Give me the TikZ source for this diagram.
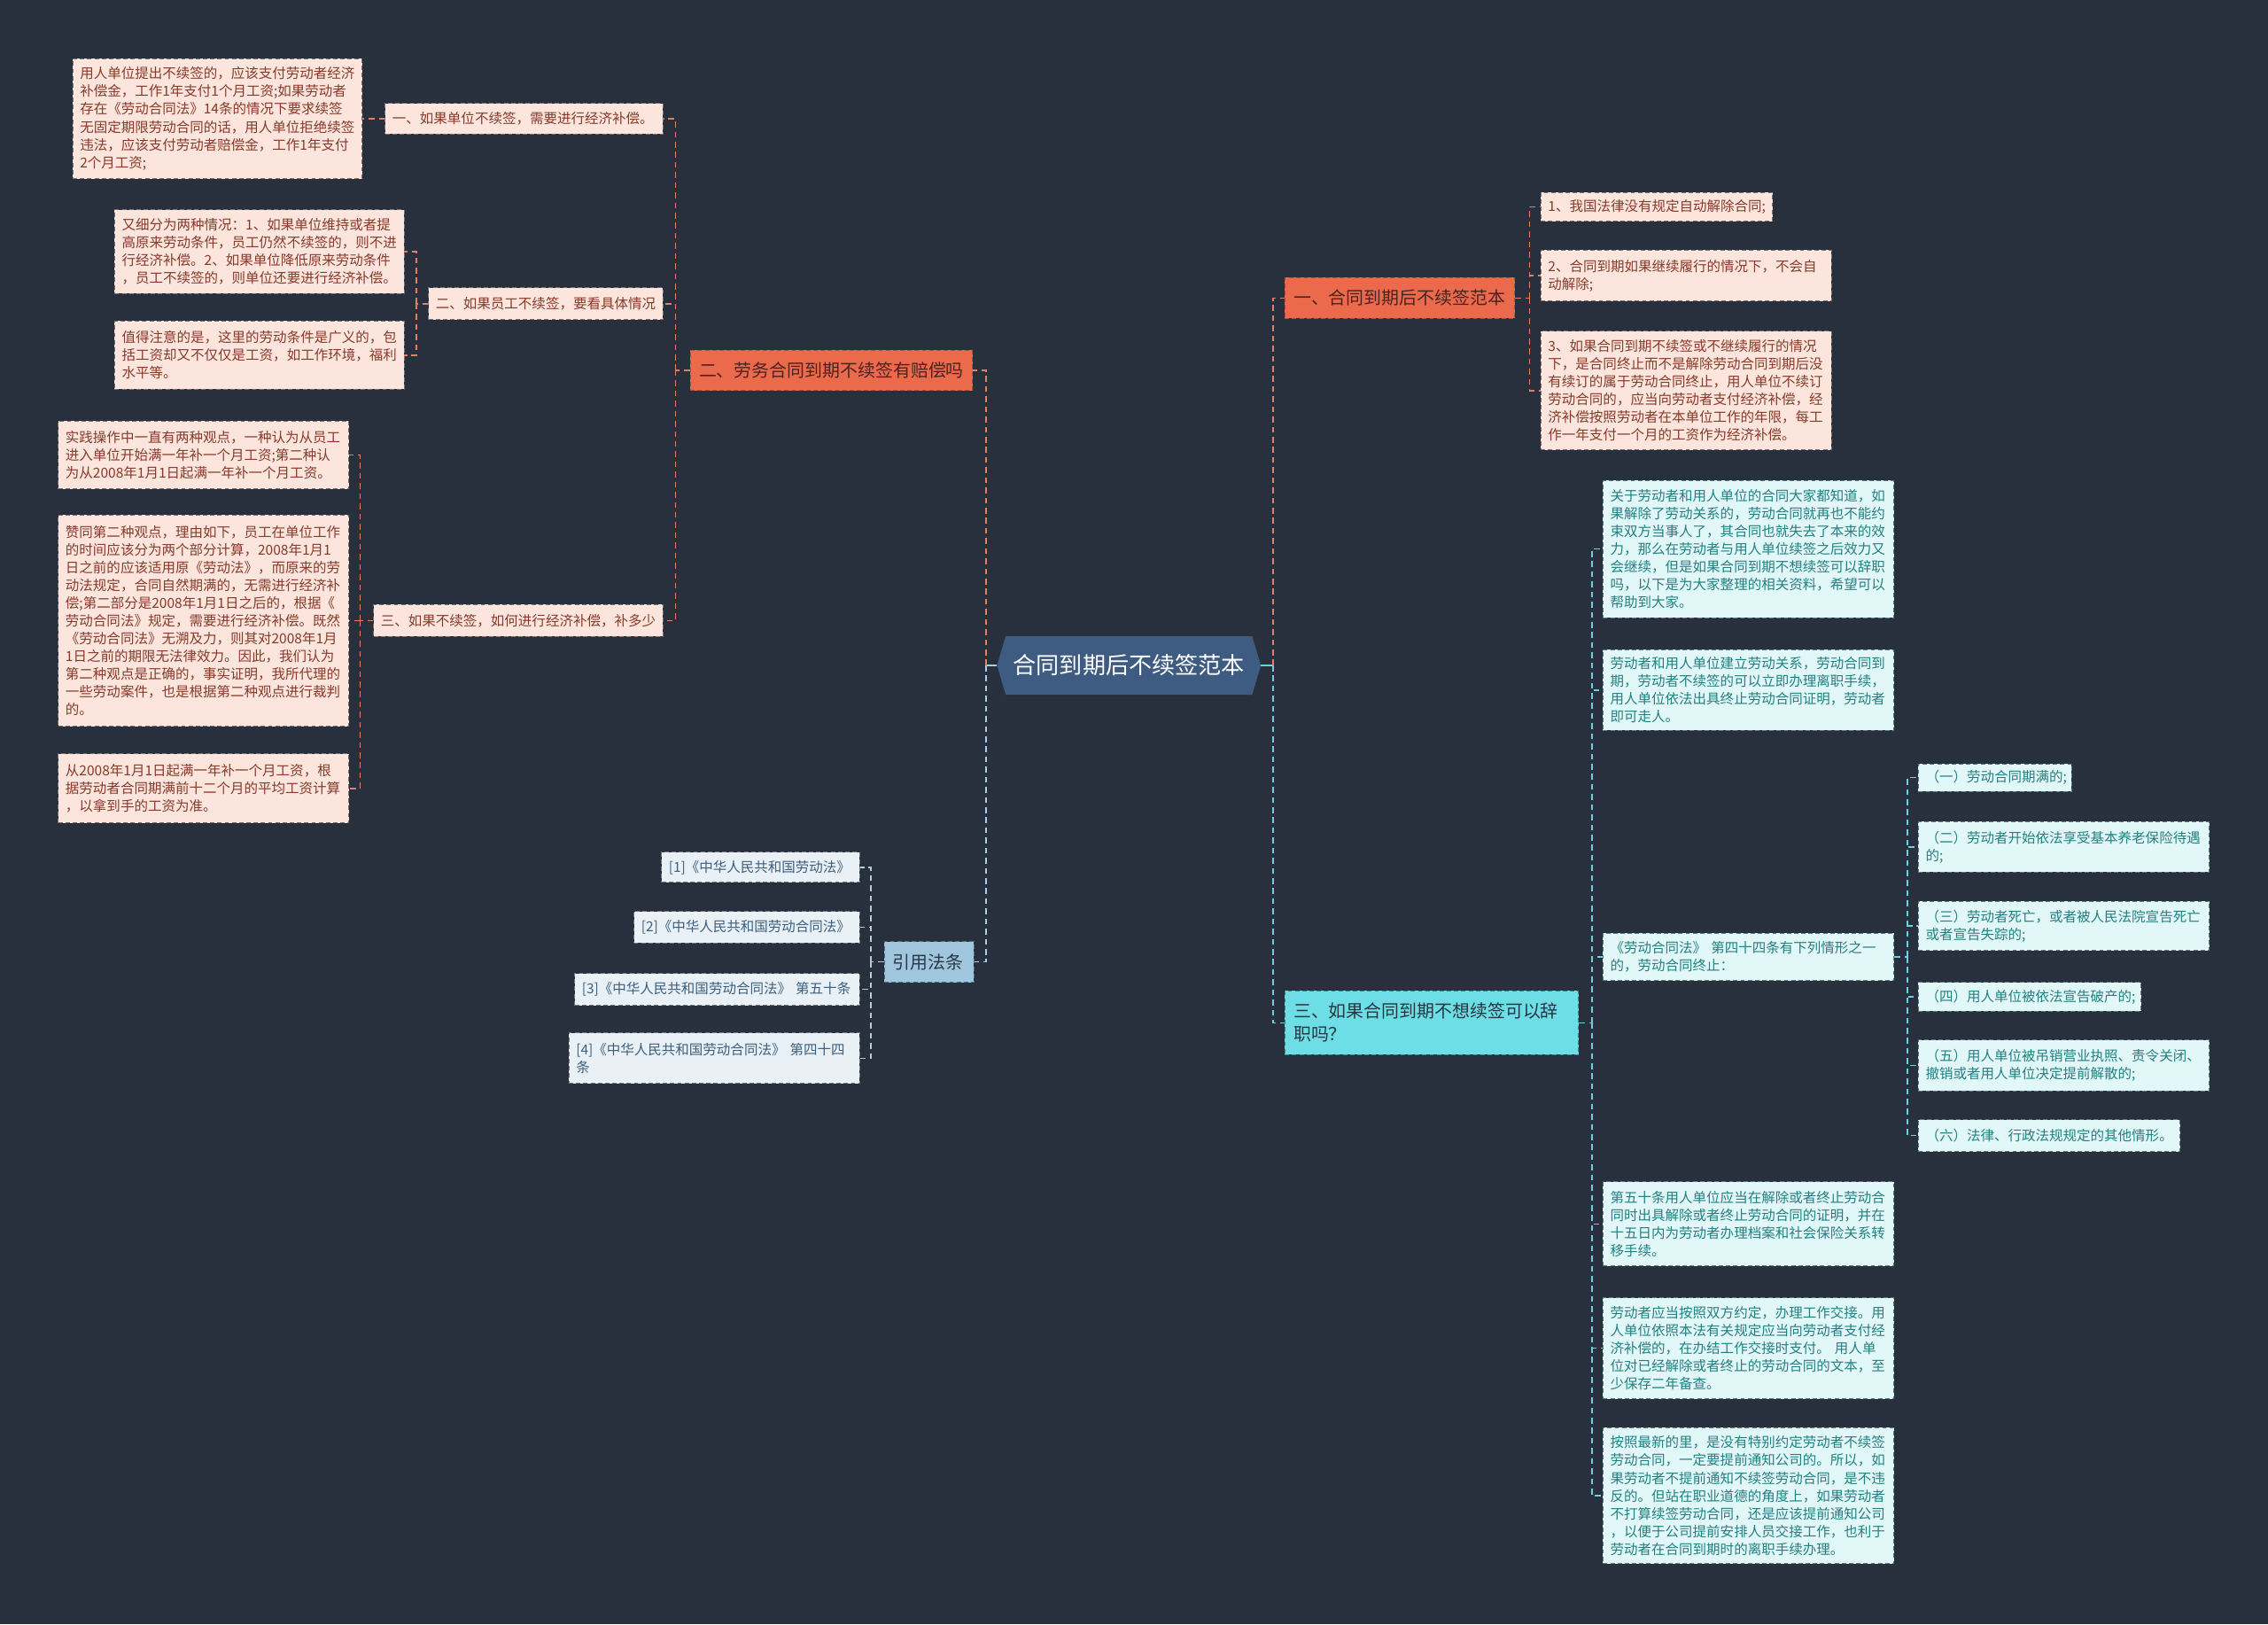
\documentclass[tikz,border=0pt]{standalone}
\usepackage{fontspec}
\setmainfont{Noto Sans CJK SC}
\newcommand\myfs{\fontsize{9.5pt}{12.3pt}\selectfont}
\newcommand\mymid{\fontsize{12.2pt}{16pt}\selectfont}
\newcommand\mybig{\fontsize{16pt}{19pt}\selectfont}
\definecolor{bg}{RGB}{40,48,62}
\definecolor{rootfill}{RGB}{62,92,130}
\definecolor{orangefill}{RGB}{236,106,76}
\definecolor{orangeline}{RGB}{170,80,60}
\definecolor{orangetext}{RGB}{75,35,30}
\definecolor{peachfill}{RGB}{252,229,221}
\definecolor{peachline}{RGB}{120,110,110}
\definecolor{peachtext}{RGB}{135,58,42}
\definecolor{olinkc}{RGB}{225,128,100}
\definecolor{cyanfill}{RGB}{110,222,230}
\definecolor{cyanline}{RGB}{60,130,140}
\definecolor{cyantext}{RGB}{35,55,65}
\definecolor{aquafill}{RGB}{226,247,248}
\definecolor{aqualine}{RGB}{90,120,125}
\definecolor{aquatext}{RGB}{35,128,130}
\definecolor{clinkc}{RGB}{110,208,220}
\definecolor{bluefill}{RGB}{160,198,222}
\definecolor{blueline}{RGB}{80,110,130}
\definecolor{bluetext}{RGB}{40,55,70}
\definecolor{citefill}{RGB}{233,241,247}
\definecolor{citeline}{RGB}{110,120,130}
\definecolor{citetext}{RGB}{60,95,125}
\definecolor{blinkc}{RGB}{175,205,225}
\begin{document}
\begin{tikzpicture}[x=1pt,y=-1pt,
  bx/.style={rectangle, anchor=west, inner xsep=5pt, inner ysep=1pt, align=left, line width=0.6pt, dash pattern=on 3pt off 2pt},
  peach/.style={bx, fill=peachfill, draw=peachline, text=peachtext, font=\myfs},
  aqua/.style={bx, fill=aquafill, draw=aqualine, text=aquatext, font=\myfs},
  citebox/.style={bx, fill=citefill, draw=citeline, text=citetext, font=\myfs},
  mainor/.style={bx, inner xsep=6pt, fill=orangefill, draw=orangeline, text=orangetext, font=\mymid},
  maincy/.style={bx, inner xsep=6pt, fill=cyanfill, draw=cyanline, text=cyantext, font=\mymid},
  mainbl/.style={bx, inner xsep=6pt, fill=bluefill, draw=blueline, text=bluetext, font=\mymid},
  olink/.style={draw=olinkc, line width=0.9pt, dash pattern=on 4pt off 3pt},
  clink/.style={draw=clinkc, line width=0.9pt, dash pattern=on 4pt off 3pt},
  blink/.style={draw=blinkc, line width=0.9pt, dash pattern=on 4pt off 3pt},
  lstub/.style={draw=blinkc, line width=1.2pt},
  cstub/.style={draw=clinkc, line width=1.2pt}
]
\fill[bg] (0,0) rectangle (1568,1123);
\useasboundingbox (0,0) rectangle (1568,1123);

% root
\node[minimum width=170pt, minimum height=40pt, inner sep=0pt] (rootbox) at (780.5,460) {};
\fill[rootfill] ([xshift=-6pt]rootbox.west) -- (rootbox.north west) -- (rootbox.north east) -- ([xshift=6pt]rootbox.east) -- (rootbox.south east) -- (rootbox.south west) -- cycle;
\node[text=white, font=\mybig] (roottext) at (rootbox) {合同到期后不续签范本};

% main branches
\node[mainor, minimum width=159pt, text width=147pt, minimum height=28pt] (b1) at (888,206) {一、合同到期后不续签范本};
\node[mainor, minimum width=195pt, text width=183pt, minimum height=28pt] (b2) at (477,256) {二、劳务合同到期不续签有赔偿吗};
\node[maincy, minimum width=203pt, text width=191pt, minimum height=44pt] (b3) at (888,707) {三、如果合同到期不想续签可以辞\\职吗？};
\node[mainbl, minimum width=62pt, text width=50pt, minimum height=28pt] (cite) at (611,665) {引用法条};

% right orange children
\node[peach, minimum width=160pt, text width=150pt, minimum height=20pt] (r1) at (1065,143) {1、我国法律没有规定自动解除合同;};
\node[peach, minimum width=201pt, text width=191pt, minimum height=35pt] (r2) at (1065,190.5) {2、合同到期如果继续履行的情况下，不会自\\动解除;};
\node[peach, minimum width=201pt, text width=191pt, minimum height=82pt] (r3) at (1065,270) {3、如果合同到期不续签或不继续履行的情况\\下，是合同终止而不是解除劳动合同到期后没\\有续订的属于劳动合同终止，用人单位不续订\\劳动合同的，应当向劳动者支付经济补偿，经\\济补偿按照劳动者在本单位工作的年限，每工\\作一年支付一个月的工资作为经济补偿。};

% left orange children
\node[peach, minimum width=192pt, text width=182pt, minimum height=21pt] (l1) at (266,82) {一、如果单位不续签，需要进行经济补偿。};
\node[peach, minimum width=162pt, text width=152pt, minimum height=22pt] (l2) at (296,210) {二、如果员工不续签，要看具体情况};
\node[peach, minimum width=200pt, text width=190pt, minimum height=22pt] (l3) at (258,429) {三、如果不续签，如何进行经济补偿，补多少};

\node[peach, minimum width=200pt, text width=190pt, minimum height=83pt] (na) at (50,82) {用人单位提出不续签的，应该支付劳动者经济\\补偿金，工作1年支付1个月工资;如果劳动者\\存在《劳动合同法》14条的情况下要求续签\\无固定期限劳动合同的话，用人单位拒绝续签\\违法，应该支付劳动者赔偿金，工作1年支付\\2个月工资;};
\node[peach, minimum width=200pt, text width=190pt, minimum height=58pt] (nb) at (79,174) {又细分为两种情况：1、如果单位维持或者提\\高原来劳动条件，员工仍然不续签的，则不进\\行经济补偿。2、如果单位降低原来劳动条件\\，员工不续签的，则单位还要进行经济补偿。};
\node[peach, minimum width=200pt, text width=190pt, minimum height=47pt] (nc) at (79,245.5) {值得注意的是，这里的劳动条件是广义的，包\\括工资却又不仅仅是工资，如工作环境，福利\\水平等。};
\node[peach, minimum width=201pt, text width=191pt, minimum height=47pt] (nd) at (40,314.5) {实践操作中一直有两种观点，一种认为从员工\\进入单位开始满一年补一个月工资;第二种认\\为从2008年1月1日起满一年补一个月工资。};
\node[peach, minimum width=201pt, text width=191pt, minimum height=146pt] (ne) at (40,429) {赞同第二种观点，理由如下，员工在单位工作\\的时间应该分为两个部分计算，2008年1月1\\日之前的应该适用原《劳动法》，而原来的劳\\动法规定，合同自然期满的，无需进行经济补\\偿;第二部分是2008年1月1日之后的，根据《\\劳动合同法》规定，需要进行经济补偿。既然\\《劳动合同法》无溯及力，则其对2008年1月\\1日之前的期限无法律效力。因此，我们认为\\第二种观点是正确的，事实证明，我所代理的\\一些劳动案件，也是根据第二种观点进行裁判\\的。};
\node[peach, minimum width=201pt, text width=191pt, minimum height=48pt] (nf) at (40,545) {从2008年1月1日起满一年补一个月工资，根\\据劳动者合同期满前十二个月的平均工资计算\\，以拿到手的工资为准。};

% cyan children
\node[aqua, minimum width=201pt, text width=191pt, minimum height=95pt] (qa) at (1108,379.5) {关于劳动者和用人单位的合同大家都知道，如\\果解除了劳动关系的，劳动合同就再也不能约\\束双方当事人了，其合同也就失去了本来的效\\力，那么在劳动者与用人单位续签之后效力又\\会继续，但是如果合同到期不想续签可以辞职\\吗，以下是为大家整理的相关资料，希望可以\\帮助到大家。};
\node[aqua, minimum width=201pt, text width=191pt, minimum height=56pt] (qb) at (1108,477) {劳动者和用人单位建立劳动关系，劳动合同到\\期，劳动者不续签的可以立即办理离职手续，\\用人单位依法出具终止劳动合同证明，劳动者\\即可走人。};
\node[aqua, minimum width=201pt, text width=191pt, minimum height=33pt] (qc) at (1108,661.5) {《劳动合同法》~第四十四条有下列情形之一\\的，劳动合同终止：};
\node[aqua, minimum width=201pt, text width=191pt, minimum height=58pt] (qd) at (1108,846) {第五十条用人单位应当在解除或者终止劳动合\\同时出具解除或者终止劳动合同的证明，并在\\十五日内为劳动者办理档案和社会保险关系转\\移手续。};
\node[aqua, minimum width=201pt, text width=191pt, minimum height=70pt] (qe) at (1108,932) {劳动者应当按照双方约定，办理工作交接。用\\人单位依照本法有关规定应当向劳动者支付经\\济补偿的，在办结工作交接时支付。~用人单\\位对已经解除或者终止的劳动合同的文本，至\\少保存二年备查。};
\node[aqua, minimum width=201pt, text width=191pt, minimum height=94pt] (qf) at (1108,1034) {按照最新的里，是没有特别约定劳动者不续签\\劳动合同，一定要提前通知公司的。所以，如\\果劳动者不提前通知不续签劳动合同，是不违\\反的。但站在职业道德的角度上，如果劳动者\\不打算续签劳动合同，还是应该提前通知公司\\，以便于公司提前安排人员交接工作，也利于\\劳动者在合同到期时的离职手续办理。};

\node[aqua, minimum width=106pt, text width=96pt, minimum height=19pt] (c1) at (1326,537.5) {（一）劳动合同期满的;};
\node[aqua, minimum width=201pt, text width=191pt, minimum height=35pt] (c2) at (1326,585.5) {（二）劳动者开始依法享受基本养老保险待遇\\的;};
\node[aqua, minimum width=201pt, text width=191pt, minimum height=34pt] (c3) at (1326,640) {（三）劳动者死亡，或者被人民法院宣告死亡\\或者宣告失踪的;};
\node[aqua, minimum width=154pt, text width=144pt, minimum height=20pt] (c4) at (1326,689) {（四）用人单位被依法宣告破产的;};
\node[aqua, minimum width=201pt, text width=191pt, minimum height=35pt] (c5) at (1326,736.5) {（五）用人单位被吊销营业执照、责令关闭、\\撤销或者用人单位决定提前解散的;};
\node[aqua, minimum width=181pt, text width=171pt, minimum height=22pt] (c6) at (1326,785) {（六）法律、行政法规规定的其他情形。};

% citations
\node[citebox, minimum width=137pt, text width=127pt, minimum height=21pt] (k1) at (457,599.5) {[1]《中华人民共和国劳动法》};
\node[citebox, minimum width=156pt, text width=146pt, minimum height=22pt] (k2) at (438,641) {[2]《中华人民共和国劳动合同法》};
\node[citebox, minimum width=197pt, text width=187pt, minimum height=22pt] (k3) at (397,684) {[3]《中华人民共和国劳动合同法》~第五十条};
\node[citebox, minimum width=201pt, text width=191pt, minimum height=35pt] (k4) at (393,731.5) {[4]《中华人民共和国劳动合同法》~第四十四\\条};

% connectors from root
\draw[lstub] ([xshift=-6pt]rootbox.west) -- ++(-7.5,0) coordinate (lt);
\draw[olink] (lt) |- (b2.east);
\draw[blink] (lt) |- (cite.east);
\draw[cstub] ([xshift=6pt]rootbox.east) -- ++(8.5,0) coordinate (rt);
\draw[olink] (rt) |- (b1.west);
\draw[clink] (rt) |- (b3.west);

% b1 children
\draw[olink] (b1.east) -- ++(10,0) coordinate (t1);
\draw[olink] (t1) |- (r1.west);
\draw[olink] (t1) |- (r2.west);
\draw[olink] (t1) |- (r3.west);

% b2 children
\draw[olink] (b2.west) -- ++(-10,0) coordinate (t2);
\draw[olink] (t2) |- (l1.east);
\draw[olink] (t2) |- (l2.east);
\draw[olink] (t2) |- (l3.east);
\draw[olink] (l1.west) -- (na.east);
\draw[olink] (l2.west) -- ++(-8,0) coordinate (t3);
\draw[olink] (t3) |- (nb.east);
\draw[olink] (t3) |- (nc.east);
\draw[olink] (l3.west) -- ++(-9,0) coordinate (t4);
\draw[olink] (t4) |- (nd.east);
\draw[olink] (t4) |- (ne.east);
\draw[olink] (t4) |- (nf.east);

% citation children
\draw[blink] (cite.west) -- ++(-9,0) coordinate (t5);
\draw[blink] (t5) |- (k1.east);
\draw[blink] (t5) |- (k2.east);
\draw[blink] (t5) |- (k3.east);
\draw[blink] (t5) |- (k4.east);

% b3 children
\draw[clink] (b3.east) -- ++(9,0) coordinate (t6);
\draw[clink] (t6) |- (qa.west);
\draw[clink] (t6) |- (qb.west);
\draw[clink] (t6) |- (qc.west);
\draw[clink] (t6) |- (qd.west);
\draw[clink] (t6) |- (qe.west);
\draw[clink] (t6) |- (qf.west);
\draw[clink] (qc.east) -- ++(9,0) coordinate (t7);
\draw[clink] (t7) |- (c1.west);
\draw[clink] (t7) |- (c2.west);
\draw[clink] (t7) |- (c3.west);
\draw[clink] (t7) |- (c4.west);
\draw[clink] (t7) |- (c5.west);
\draw[clink] (t7) |- (c6.west);
\end{tikzpicture}
\end{document}
